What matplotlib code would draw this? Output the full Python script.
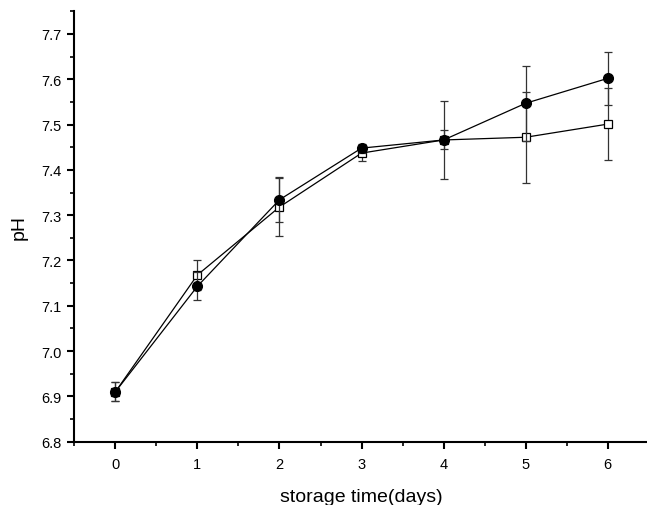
import matplotlib
matplotlib.use("Agg")
import matplotlib.pyplot as plt
from matplotlib.ticker import MultipleLocator, FormatStrFormatter

plt.rcParams['font.family'] = ['Liberation Sans', 'DejaVu Sans']

days = [0, 1, 2, 3, 4, 5, 6]
ph_filled = [6.910, 7.143, 7.334, 7.448, 7.466, 7.547, 7.602]
err_filled = [0.021, 0.031, 0.050, 0.010, 0.021, 0.083, 0.058]
ph_open = [6.910, 7.168, 7.318, 7.437, 7.466, 7.472, 7.501]
err_open = [0.021, 0.034, 0.064, 0.018, 0.086, 0.100, 0.080]

fig = plt.figure(figsize=(6.47, 5.06), dpi=100)
ax = fig.add_axes([0.1148, 0.1251, 0.888, 0.8506])

ax.errorbar(days, ph_open, yerr=err_open, fmt='-', color='black', lw=0.9,
            marker='s', ms=5.5, mfc='white', mec='black', mew=0.9,
            ecolor='#333333', elinewidth=0.9, capsize=3.2, capthick=0.9,
            zorder=2)
ax.errorbar(days, ph_filled, yerr=err_filled, fmt='-', color='black', lw=0.9,
            marker='o', ms=7, mfc='black', mec='black',
            ecolor='#333333', elinewidth=0.9, capsize=3.2, capthick=0.9,
            zorder=3)

ax.set_xlim(-0.5, 6.5)
ax.set_ylim(6.8, 7.75)
ax.xaxis.set_major_locator(MultipleLocator(1))
ax.xaxis.set_minor_locator(MultipleLocator(0.5))
ax.yaxis.set_major_locator(MultipleLocator(0.1))
ax.yaxis.set_minor_locator(MultipleLocator(0.05))
ax.yaxis.set_major_formatter(FormatStrFormatter('%.1f'))

for side in ('top', 'right'):
    ax.spines[side].set_visible(False)
for side in ('left', 'bottom'):
    ax.spines[side].set_linewidth(1.5)

ax.tick_params(which='major', direction='out', length=5, width=1.5,
               labelsize=10.5)
ax.tick_params(which='minor', direction='out', length=3, width=1.2)
ax.tick_params(axis='x', which='major', pad=6)
ax.tick_params(axis='y', which='major', pad=4)

ax.set_xlabel('storage time(days)', fontsize=14, labelpad=12)
ax.set_ylabel('pH', fontsize=14, labelpad=10)

fig.savefig('out.png', dpi=100)
